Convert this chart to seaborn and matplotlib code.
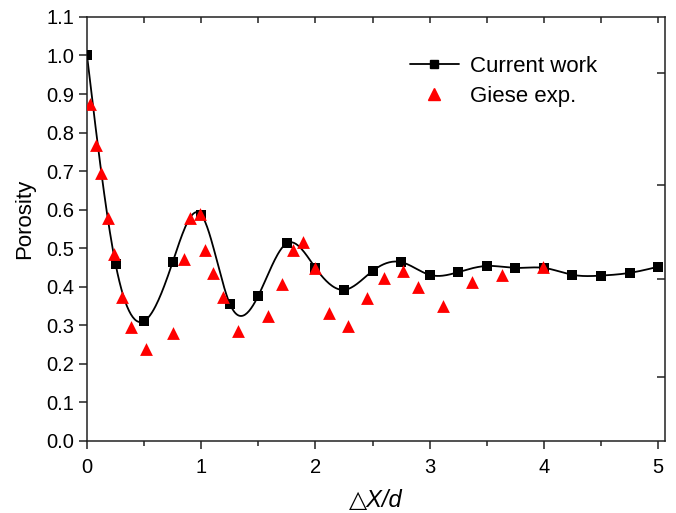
import matplotlib
matplotlib.use("Agg")
import matplotlib.pyplot as plt
from matplotlib.lines import Line2D
import numpy as np
import pandas as pd
import seaborn as sns

# Current work (simulation), sampled every 0.25 d
cur_x = [0.0, 0.25, 0.5, 0.75, 1.0, 1.25, 1.5, 1.75, 2.0, 2.25, 2.5,
         2.75, 3.0, 3.25, 3.5, 3.75, 4.0, 4.25, 4.5, 4.75, 5.0]
cur_y = [1.0, 0.459, 0.311, 0.464, 0.587, 0.356, 0.377, 0.513, 0.449, 0.392, 0.441,
         0.464, 0.431, 0.438, 0.454, 0.449, 0.449, 0.431, 0.429, 0.436, 0.452]

# Giese experiment
giese_x = [0.03, 0.08, 0.12, 0.18, 0.24, 0.31, 0.385, 0.52, 0.75, 0.85, 0.90,
           0.99, 1.03, 1.10, 1.19, 1.32, 1.585, 1.71, 1.80, 1.89, 2.00, 2.12,
           2.285, 2.45, 2.60, 2.77, 2.90, 3.12, 3.37, 3.63, 3.99]
giese_y = [0.875, 0.768, 0.695, 0.578, 0.485, 0.374, 0.296, 0.239, 0.280, 0.472, 0.578,
           0.589, 0.495, 0.436, 0.374, 0.285, 0.324, 0.407, 0.495, 0.516, 0.449, 0.332,
           0.298, 0.371, 0.423, 0.441, 0.400, 0.350, 0.412, 0.431, 0.452]

x_ticks = [0, 1, 2, 3, 4, 5]
y_ticks = [0.0, 0.1, 0.2, 0.3, 0.4, 0.5, 0.6, 0.7, 0.8, 0.9, 1.0, 1.1]


def natural_spline(x, y, n=600):
    # smooth line through the points (natural cubic spline)
    x = np.asarray(x, float)
    y = np.asarray(y, float)
    k = len(x)
    h = np.diff(x)
    A = np.zeros((k, k))
    b = np.zeros(k)
    A[0, 0] = A[-1, -1] = 1
    for i in range(1, k - 1):
        A[i, i - 1] = h[i - 1]
        A[i, i] = 2 * (h[i - 1] + h[i])
        A[i, i + 1] = h[i]
        b[i] = 6 * ((y[i + 1] - y[i]) / h[i] - (y[i] - y[i - 1]) / h[i - 1])
    M = np.linalg.solve(A, b)
    xs = np.linspace(x[0], x[-1], n)
    idx = np.clip(np.searchsorted(x, xs) - 1, 0, k - 2)
    x0, x1 = x[idx], x[idx + 1]
    hh = x1 - x0
    t0, t1 = x1 - xs, xs - x0
    ys = (M[idx] * t0 ** 3 + M[idx + 1] * t1 ** 3) / (6 * hh) \
        + (y[idx] / hh - M[idx] * hh / 6) * t0 \
        + (y[idx + 1] / hh - M[idx + 1] * hh / 6) * t1
    return xs, ys


sns.set_style("ticks")
plt.rcParams['font.family'] = ['Liberation Sans', 'DejaVu Sans']
plt.rcParams['text.color'] = 'black'
plt.rcParams['axes.labelcolor'] = 'black'

fig = plt.figure(figsize=(6.76, 5.13), dpi=100)
ax = fig.add_axes([0.1287, 0.1404, 0.855, 0.8266])

sx, sy = natural_spline(cur_x, cur_y)
smooth = pd.DataFrame({"x": sx, "y": sy})
cur = pd.DataFrame({"x": cur_x, "y": cur_y})
giese = pd.DataFrame({"x": giese_x, "y": giese_y})

sns.lineplot(data=smooth, x="x", y="y", color="black", linewidth=1.3, ax=ax,
             sort=False, legend=False)
sns.scatterplot(data=cur, x="x", y="y", marker="s", s=55, color="black",
                edgecolor="black", linewidth=0, ax=ax, legend=False, zorder=3)
sns.scatterplot(data=giese, x="x", y="y", marker="^", s=85, color="#ff0000",
                edgecolor="#ff0000", linewidth=0, ax=ax, legend=False, zorder=4)

ax.set_xlim(0, 5.06)
ax.set_ylim(0, 1.1)
ax.set_xticks(x_ticks)
ax.set_xticks(np.arange(0.5, 5.1, 1.0), minor=True)
ax.set_yticks(y_ticks)
ax.set_yticklabels([f"{v:.1f}" for v in y_ticks])
ax.tick_params(axis="both", which="major", direction="out", length=6, width=1.1,
               labelsize=14.5, color="#222222", labelcolor="black", pad=3)
ax.tick_params(axis="x", which="major", pad=6)
ax.tick_params(axis="x", which="minor", direction="out", length=3.5, width=1.1,
               color="#222222")
ax.tick_params(axis="y", which="minor", left=False)

# mirrored top/right ticks pointing inward
top = ax.secondary_xaxis("top")
top.set_xticks(np.arange(0.5, 5.1, 0.5))
top.tick_params(direction="in", length=4, width=1.1, labeltop=False, color="#222222")
top.spines["top"].set_visible(False)
right = ax.secondary_yaxis("right")
right.set_yticks([0.165, 0.42, 0.665, 0.955])
right.tick_params(direction="in", length=6, width=1.1, labelright=False, color="#222222")
right.spines["right"].set_visible(False)

for sp in ax.spines.values():
    sp.set_linewidth(1.1)
    sp.set_color("#222222")

ax.set_xlabel("\u25b3X/d", fontsize=17, style="italic", labelpad=9)
ax.set_ylabel("Porosity", fontsize=16)
ax.yaxis.set_label_coords(-0.09, 0.524)

handles = [
    Line2D([], [], color="black", marker="s", markersize=6, linewidth=1.3),
    Line2D([], [], color="#ff0000", marker="^", markersize=8, linewidth=0),
]
ax.legend(handles, ["Current work", "Giese exp."], loc="upper left",
          bbox_to_anchor=(0.524, 0.955), frameon=False, fontsize=16,
          handlelength=2.2, handletextpad=0.5, labelspacing=0.4)

fig.savefig("out.png", dpi=100)
